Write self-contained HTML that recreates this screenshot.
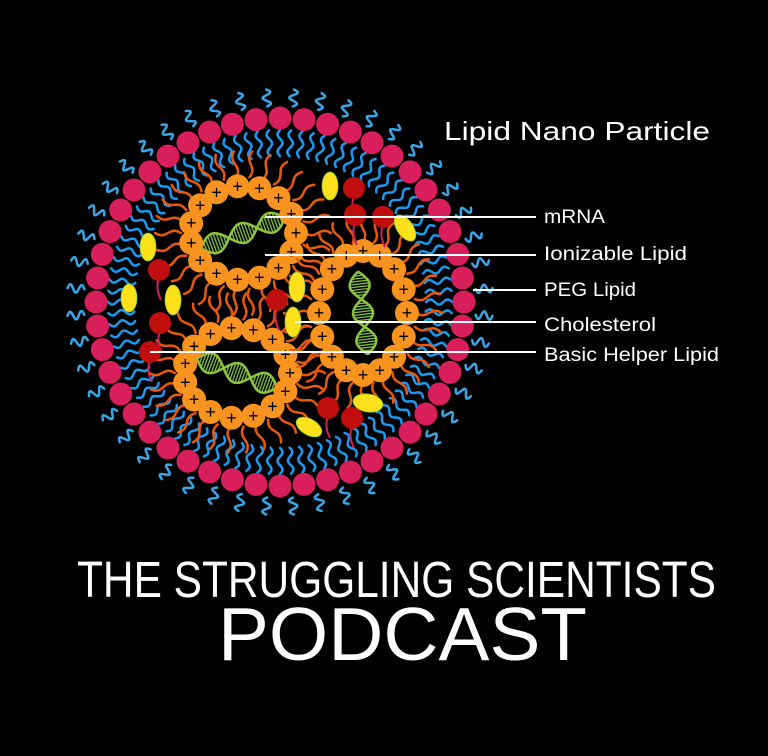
<!DOCTYPE html>
<html><head><meta charset="utf-8"><style>
html,body{margin:0;padding:0;background:#000;width:768px;height:756px;overflow:hidden}
svg{display:block}
text{font-family:"Liberation Sans",sans-serif;fill:#fff}
</style></head><body>
<svg id="s" width="768" height="756" viewBox="0 0 768 756" xmlns="http://www.w3.org/2000/svg">
<rect width="768" height="756" fill="#000"/>
<g id="g"></g>
<g stroke="#fff" stroke-width="2">
<line x1="265" y1="217" x2="536" y2="217"/>
<line x1="265" y1="255" x2="536" y2="255"/>
<line x1="473" y1="290" x2="536" y2="290"/>
<line x1="295" y1="322" x2="536" y2="322"/>
<line x1="150" y1="352" x2="536" y2="352"/>
</g>
<text x="444" y="140" font-size="26" textLength="266" lengthAdjust="spacingAndGlyphs">Lipid Nano Particle</text>
<g font-size="19">
<text x="544" y="223" textLength="61" lengthAdjust="spacingAndGlyphs">mRNA</text>
<text x="544" y="260" textLength="143" lengthAdjust="spacingAndGlyphs">Ionizable Lipid</text>
<text x="544" y="296" textLength="92" lengthAdjust="spacingAndGlyphs">PEG Lipid</text>
<text x="544" y="331" textLength="112" lengthAdjust="spacingAndGlyphs">Cholesterol</text>
<text x="544" y="361" textLength="175" lengthAdjust="spacingAndGlyphs">Basic Helper Lipid</text>
</g>
<text x="77" y="597" font-size="51" textLength="639" lengthAdjust="spacingAndGlyphs">THE STRUGGLING SCIENTISTS</text>
<text x="218" y="660" font-size="75" textLength="369" lengthAdjust="spacingAndGlyphs">PODCAST</text>
</svg>
<script>
(function(){
var g=document.getElementById('g'),h='';
var cx=280,cy=302,R=184;
function wig(x,y,ang,len,amp,n,col,w){
  var d='M'+x.toFixed(1)+' '+y.toFixed(1),c=Math.cos(ang),s=Math.sin(ang),px=-s,py=c,N=Math.ceil(n*16);
  for(var i=1;i<=N;i++){var f=i/N,t=f*len,o=amp*Math.sin(f*n*2*Math.PI);
   d+=' L'+(x+c*t+px*o).toFixed(1)+' '+(y+s*t+py*o).toFixed(1);}
  h+='<path d="'+d+'" fill="none" stroke="'+col+'" stroke-width="'+w+'" stroke-linecap="round" stroke-linejoin="round"/>';
}
for(var i=0;i<48;i++){var a=(i+0.5)/48*2*Math.PI;
 wig(cx+(R+12)*Math.cos(a),cy+(R+12)*Math.sin(a),a,17,4,1.5,'#3aa6e8',2.5);}
for(var i=0;i<96;i++){var a=i/96*2*Math.PI;
 wig(cx+(R-12)*Math.cos(a),cy+(R-12)*Math.sin(a),a+Math.PI,26,2.5,1.5,'#1a9af0',2.5);}
for(var i=0;i<48;i++){var a=i/48*2*Math.PI;
 h+='<circle cx="'+(cx+R*Math.cos(a)).toFixed(1)+'" cy="'+(cy+R*Math.sin(a)).toFixed(1)+'" r="11.5" fill="#d81e5b"/>';}
function core(x,y,rx,ry,n,rot){
 for(var i=0;i<n*2;i++){var a=i/(n*2)*2*Math.PI;
  wig(x+(rx+9)*Math.cos(a),y+(ry+9)*Math.sin(a),a,26,2.2,1,'#e8590c',2.5);}
 var L=Math.min(rx,ry)*1.9,c=Math.cos(rot),s=Math.sin(rot),d1='',d2='',rungs='';
 for(var k=0;k<=60;k++){var t=-L/2+L*k/60,o=10*Math.sin(k/60*3*Math.PI);
  var x1=x+c*t-s*o,y1=y+s*t+c*o,x2=x+c*t+s*o,y2=y+s*t-c*o;
  d1+=(k?' L':'M')+x1.toFixed(1)+' '+y1.toFixed(1);d2+=(k?' L':'M')+x2.toFixed(1)+' '+y2.toFixed(1);
  if(k%2==1)rungs+='M'+x1.toFixed(1)+' '+y1.toFixed(1)+' L'+x2.toFixed(1)+' '+y2.toFixed(1)+' ';}
 h+='<path d="'+rungs+'" stroke="#7cbf3a" stroke-width="1.3"/><path d="'+d1+'" fill="none" stroke="#8cc63f" stroke-width="2.5"/><path d="'+d2+'" fill="none" stroke="#8cc63f" stroke-width="2.5"/>';
 for(var i=0;i<n;i++){var a=i/n*2*Math.PI,bx=x+rx*Math.cos(a),by=y+ry*Math.sin(a);
  h+='<circle cx="'+bx.toFixed(1)+'" cy="'+by.toFixed(1)+'" r="12" fill="#f7931e"/><text x="'+bx.toFixed(1)+'" y="'+(by+6).toFixed(1)+'" font-size="18" text-anchor="middle" style="fill:#000">+</text>';}
}
core(243,233,53,47,15,-0.35);
core(237,373,53,45,15,0.35);
core(363,313,44,62,16,1.45);
[[354,188],[355,215],[383,217],[159,270],[160,323],[150,352],[277,300],[328,408],[352,418]].forEach(function(p){
 h+='<path d="M'+p[0]+' '+(p[1]+8)+' q-4 10 2 22" fill="none" stroke="#d81e5b" stroke-width="2"/>';
 h+='<circle cx="'+p[0]+'" cy="'+p[1]+'" r="11" fill="#c00d0d"/>';});
[[330,186,8,14,0],[405,228,8,15,-35],[148,247,8,14,0],[129,298,8,14,0],[173,300,8,15,0],[297,287,8,15,0],[293,322,8,15,0],[368,403,15,9,10],[309,427,14,8,30]].forEach(function(e){
 h+='<ellipse cx="'+e[0]+'" cy="'+e[1]+'" rx="'+e[2]+'" ry="'+e[3]+'" transform="rotate('+e[4]+' '+e[0]+' '+e[1]+')" fill="#fbe01a" stroke="#8cc63f" stroke-width="0.8"/>';});
g.innerHTML=h;
})();
</script>
</body></html>
